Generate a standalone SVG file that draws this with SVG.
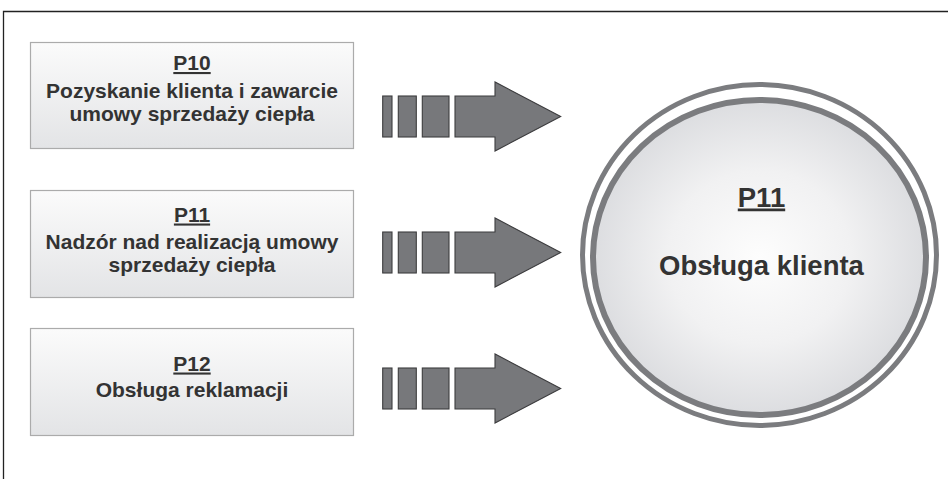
<svg xmlns="http://www.w3.org/2000/svg" width="948" height="479" viewBox="0 0 948 479">
  <defs>
    <linearGradient id="boxFill" x1="0" y1="0" x2="0" y2="1">
      <stop offset="0" stop-color="#fbfbfb"/>
      <stop offset="1" stop-color="#e3e4e6"/>
    </linearGradient>
    <radialGradient id="discFill" cx="0.5" cy="0.5" r="0.5">
      <stop offset="0" stop-color="#fdfdfd"/>
      <stop offset="0.55" stop-color="#f1f1f2"/>
      <stop offset="1" stop-color="#dcdde0"/>
    </radialGradient>
    <!-- striped block arrow, centred vertically on y=0 -->
    <g id="blockArrow">
      <rect x="382.7" y="-20.5" width="9.3" height="41"/>
      <rect x="398.3" y="-20.5" width="18" height="41"/>
      <rect x="422.3" y="-20.5" width="26.7" height="41"/>
      <path d="M455,-20.5 H495 V-34.5 L560.7,0 L495,34.5 V20.5 H455 Z"/>
    </g>
  </defs>
  <style>
    .frame { fill: none; stroke: #222; stroke-width: 1.3; }
    .box { fill: url(#boxFill); stroke: #ababab; stroke-width: 1.2; }
    .label { font-family: "Liberation Sans", Arial, sans-serif; font-weight: bold; font-size: 21px; fill: #333; text-anchor: middle; }
    .title { text-decoration: underline; }
    .big { font-size: 27.5px; }
    .arrow { fill: #77787b; stroke: #3c3c3e; stroke-width: 1.1; }
    .ring { fill: none; stroke: #7b7c7f; }
  </style>

  <rect width="948" height="479" fill="#fff"/>
  <path class="frame" d="M3.5,479 V11.5 H948"/>

  <g id="p10">
    <rect class="box" x="30.5" y="42.5" width="323" height="106"/>
    <text class="label title" x="192" y="70">P10</text>
    <text class="label" x="192" y="98">Pozyskanie klienta i zawarcie</text>
    <text class="label" x="192" y="121">umowy sprzedaży ciepła</text>
  </g>

  <g id="p11-supervision">
    <rect class="box" x="30.5" y="190.5" width="323" height="107"/>
    <text class="label title" x="192" y="221.5">P11</text>
    <text class="label" x="192" y="248.5">Nadzór nad realizacją umowy</text>
    <text class="label" x="192" y="271.5">sprzedaży ciepła</text>
  </g>

  <g id="p12">
    <rect class="box" x="30.5" y="328.5" width="323" height="107"/>
    <text class="label title" x="192" y="370.5">P12</text>
    <text class="label" x="192" y="397">Obsługa reklamacji</text>
  </g>

  <g id="p11-customer-service">
    <ellipse cx="759.5" cy="255" rx="177" ry="170.5" fill="#fff"/>
    <ellipse class="ring" cx="759.5" cy="255" rx="177" ry="170.5" stroke-width="5"/>
    <ellipse cx="759.5" cy="257.5" rx="166.5" ry="157.5" fill="url(#discFill)"/>
    <ellipse class="ring" cx="759.5" cy="257.5" rx="166.5" ry="157.5" stroke-width="6"/>
    <text class="label big title" x="761.5" y="206.5">P11</text>
    <text class="label big" x="761.5" y="275">Obsługa klienta</text>
  </g>

  <g id="connectors" class="arrow">
    <use href="#blockArrow" transform="translate(0,116.5)"/>
    <use href="#blockArrow" transform="translate(0,252.5)"/>
    <use href="#blockArrow" transform="translate(0,388.5)"/>
  </g>
</svg>
